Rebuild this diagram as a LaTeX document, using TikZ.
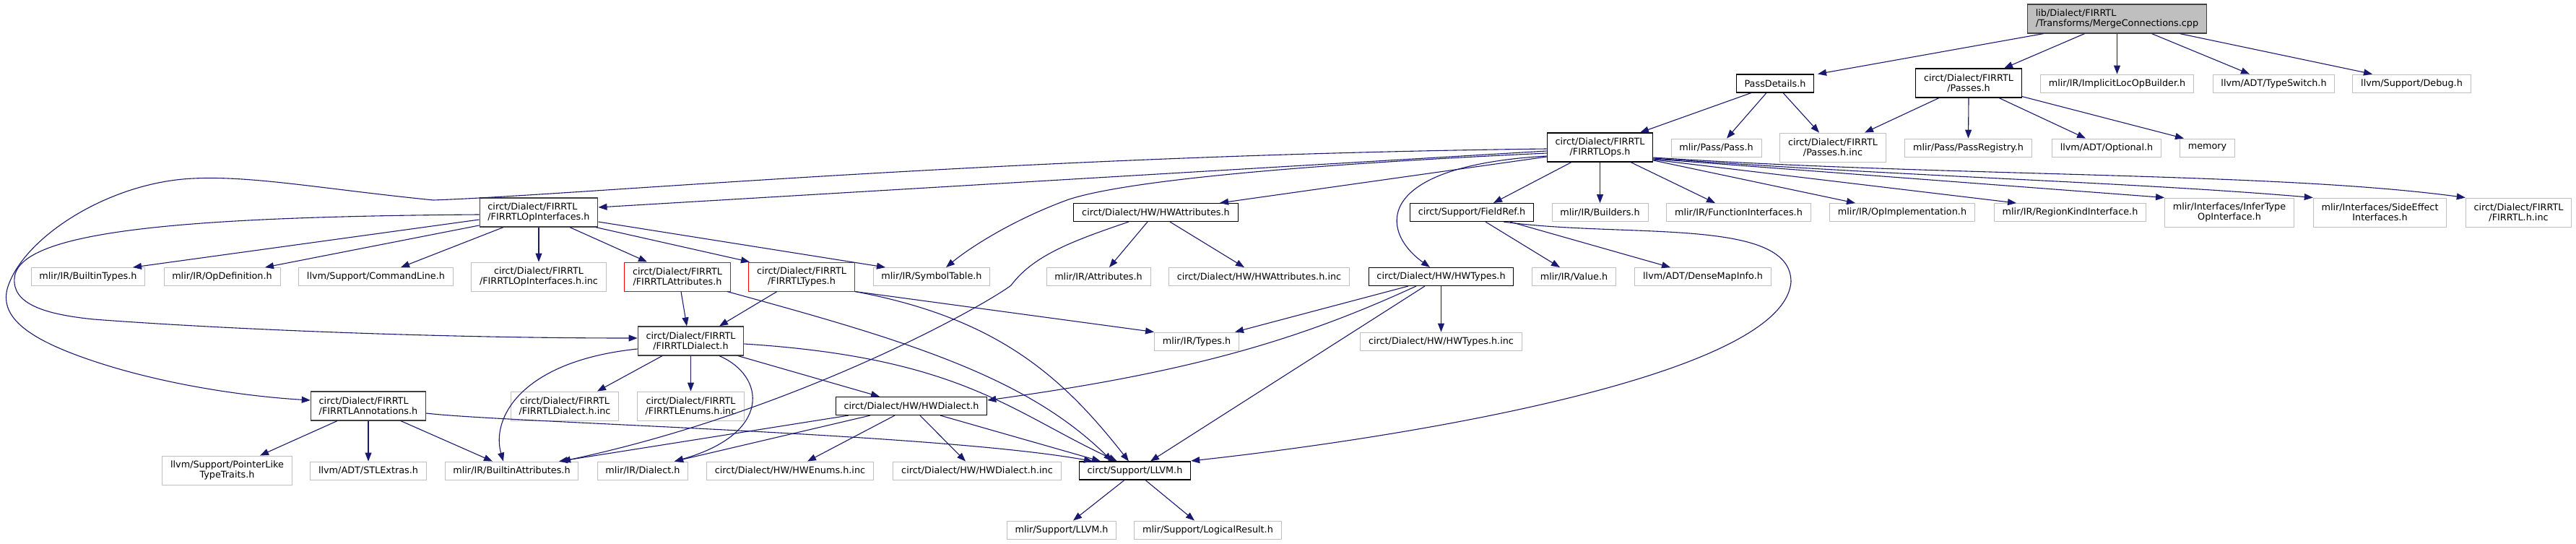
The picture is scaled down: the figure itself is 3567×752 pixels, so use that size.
\documentclass[tikz,border=0pt]{standalone}
\usepackage{fontspec}
\setmainfont{DejaVu Sans}
\usepackage{tikz}
\usetikzlibrary{arrows.meta,positioning,calc}
\usepackage{xcolor}
\definecolor{edgeblue}{HTML}{191970}
\definecolor{incgray}{HTML}{BFBFBF}
\definecolor{darkedge}{HTML}{404040}
\definecolor{rootgray}{HTML}{BFBFBF}
\tikzset{
    filebox/.style={rectangle, fill=white, inner xsep=11.3pt, inner ysep=2pt, minimum height=25pt, align=center, font=\fontsize{12.8pt}{14pt}\selectfont},
    two/.style={minimum height=40pt},
    incfile/.style={filebox, draw=incgray, line width=0.9pt},
    docfile/.style={filebox, draw=black, line width=1.1pt},
    linkfile/.style={filebox, draw=darkedge, line width=1.2pt},
    cutfile/.style={filebox, draw=red, line width=1pt},
    rootfile/.style={filebox, draw=darkedge, fill=rootgray, line width=1.2pt},
    dep/.style={draw=edgeblue, line width=1.1pt, -{Triangle[length=12pt,width=9pt]}},
}

\begin{document}
\begin{tikzpicture}[x=1pt, y=-1pt]
    \fill[white] (0,0) rectangle (3567,752);
    \useasboundingbox (0,0) rectangle (3567,752);

    % Source file
    \node[rootfile, two, align=left] (root) at (2931.5,26) {lib/Dialect/FIRRTL\\/Transforms/MergeConnections.cpp};

    % Direct includes
    \node[docfile] (passdet) at (2458,115.5) {PassDetails.h};
    \node[docfile, two] (passes) at (2726,115) {circt/Dialect/FIRRTL\\/Passes.h};
    \node[incfile] (implicit) at (2931.5,115.5) {mlir/IR/ImplicitLocOpBuilder.h};
    \node[incfile] (typeswitch) at (3148.5,115.5) {llvm/ADT/TypeSwitch.h};
    \node[incfile] (debug) at (3339.5,115.5) {llvm/Support/Debug.h};

    \node[incfile] (pass) at (2376.5,204.5) {mlir/Pass/Pass.h};
    \node[incfile, two] (passesinc) at (2538,204) {circt/Dialect/FIRRTL\\/Passes.h.inc};
    \node[incfile] (passreg) at (2725.5,204.5) {mlir/Pass/PassRegistry.h};
    \node[incfile] (optional) at (2917,204.5) {llvm/ADT/Optional.h};
    \node[incfile] (memory) at (3056.5,204.5) {memory};
    \node[docfile, two] (ops) at (2215.5,204) {circt/Dialect/FIRRTL\\/FIRRTLOps.h};

    % Ops row
    \node[linkfile, two, align=left] (opif) at (746,294) {circt/Dialect/FIRRTL\\/FIRRTLOpInterfaces.h};
    \node[docfile] (hwattr) at (1600.5,294) {circt/Dialect/HW/HWAttributes.h};
    \node[docfile] (fieldref) at (2038,294) {circt/Support/FieldRef.h};
    \node[incfile] (builders) at (2215.5,294) {mlir/IR/Builders.h};
    \node[incfile] (funcif) at (2407.5,294) {mlir/IR/FunctionInterfaces.h};
    \node[incfile] (opimpl) at (2634,294) {mlir/IR/OpImplementation.h};
    \node[incfile] (regionkind) at (2866.5,294) {mlir/IR/RegionKindInterface.h};
    \node[incfile, two] (infertype) at (3087,294) {mlir/Interfaces/InferType\\OpInterface.h};
    \node[incfile, two] (sideeffect) at (3295.5,294) {mlir/Interfaces/SideEffect\\Interfaces.h};
    \node[incfile, two] (firrtlinc) at (3487.5,294) {circt/Dialect/FIRRTL\\/FIRRTL.h.inc};

    % Interfaces row
    \node[incfile] (builtintypes) at (122,383) {mlir/IR/BuiltinTypes.h};
    \node[incfile] (opdef) at (307.5,383) {mlir/IR/OpDefinition.h};
    \node[incfile] (cmdline) at (520.5,383) {llvm/Support/CommandLine.h};
    \node[incfile, two] (opifinc) at (746,383) {circt/Dialect/FIRRTL\\/FIRRTLOpInterfaces.h.inc};
    \node[cutfile, two] (fattr) at (938,383) {circt/Dialect/FIRRTL\\/FIRRTLAttributes.h};
    \node[cutfile, two] (ftypes) at (1110,383) {circt/Dialect/FIRRTL\\/FIRRTLTypes.h};
    \node[incfile] (symtab) at (1290,383) {mlir/IR/SymbolTable.h};
    \node[incfile] (attrs) at (1521,383) {mlir/IR/Attributes.h};
    \node[incfile] (hwattrinc) at (1743.5,383) {circt/Dialect/HW/HWAttributes.h.inc};
    \node[docfile] (hwtypes) at (1995.5,383) {circt/Dialect/HW/HWTypes.h};
    \node[incfile] (value) at (2179.5,383) {mlir/IR/Value.h};
    \node[incfile] (densemap) at (2358,383) {llvm/ADT/DenseMapInfo.h};

    \node[linkfile, two] (fdialect) at (956.5,472) {circt/Dialect/FIRRTL\\/FIRRTLDialect.h};
    \node[incfile] (types) at (1657,472.5) {mlir/IR/Types.h};
    \node[incfile] (hwtypesinc) at (1995.5,472.5) {circt/Dialect/HW/HWTypes.h.inc};

    \node[linkfile, two, align=left] (annot) at (510,562) {circt/Dialect/FIRRTL\\/FIRRTLAnnotations.h};
    \node[incfile, two] (fdialectinc) at (782,562) {circt/Dialect/FIRRTL\\/FIRRTLDialect.h.inc};
    \node[incfile, two] (fenums) at (956.5,562) {circt/Dialect/FIRRTL\\/FIRRTLEnums.h.inc};
    \node[docfile] (hwdialect) at (1262,562) {circt/Dialect/HW/HWDialect.h};

    % Bottom rows
    \node[incfile, two] (ptrlike) at (314.5,651) {llvm/Support/PointerLike\\TypeTraits.h};
    \node[incfile] (stlextras) at (510,651.5) {llvm/ADT/STLExtras.h};
    \node[incfile] (builtinattr) at (708.5,651.5) {mlir/IR/BuiltinAttributes.h};
    \node[incfile] (dialect) at (890,651.5) {mlir/IR/Dialect.h};
    \node[incfile] (hwenums) at (1094,651.5) {circt/Dialect/HW/HWEnums.h.inc};
    \node[incfile] (hwdialectinc) at (1353,651.5) {circt/Dialect/HW/HWDialect.h.inc};
    \node[docfile] (llvm) at (1571.5,651.5) {circt/Support/LLVM.h};
    \node[incfile] (mlirllvm) at (1470,733.5) {mlir/Support/LLVM.h};
    \node[incfile] (logres) at (1672.5,733.5) {mlir/Support/LogicalResult.h};

    % Edges from the source file
    \draw[dep] ([xshift=-102pt]root.south) -- ([xshift=59pt]passdet.north);
    \draw[dep] ([xshift=-45pt]root.south) -- ([xshift=49pt]passes.north);
    \draw[dep] (root.south) -- (implicit.north);
    \draw[dep] ([xshift=48pt]root.south) -- ([xshift=-33.5pt]typeswitch.north);
    \draw[dep] ([xshift=87pt]root.south) -- ([xshift=-54.5pt]debug.north);

    \draw[dep] ([xshift=-33pt]passdet.south) -- ([xshift=55.5pt]ops.north);
    \draw[dep] ([xshift=-12pt]passdet.south) -- ([xshift=14.5pt]pass.north);
    \draw[dep] ([xshift=11pt]passdet.south) -- ([xshift=-19pt]passesinc.north);
    \draw[dep] ([xshift=-41pt]passes.south) -- ([xshift=44pt]passesinc.north);
    \draw[dep] (passes.south) -- (passreg.north);
    \draw[dep] ([xshift=42pt]passes.south) -- ([xshift=-29pt]optional.north);
    \draw[dep] ([yshift=2pt]passes.south east) -- ([xshift=-32.5pt]memory.north);

    % FIRRTLOps.h
    \draw[dep] ([xshift=-39.5pt]ops.south) -- ([xshift=30pt]fieldref.north);
    \draw[dep] (ops.south) -- (builders.north);
    \draw[dep] ([xshift=42.5pt]ops.south) -- ([xshift=-32.5pt]funcif.north);
    \draw[dep] ([yshift=-18pt]ops.east) -- ([xshift=-65pt]opimpl.north);
    \draw[dep] ([yshift=-17pt]ops.east) -- ([xshift=-74.5pt]regionkind.north);
    \draw[dep] ([yshift=-16pt]ops.east) -- (infertype.north west);
    \draw[dep] ([yshift=-15pt]ops.east) .. controls (2650,245) and (2950,252) .. (sideeffect.north west);
    \draw[dep] ([yshift=-14pt]ops.east) .. controls (2700,245) and (3150,238) .. (firrtlinc.north west);
    \draw[dep] ([yshift=-5pt]ops.west) -- ([yshift=7pt]opif.east);
    \draw[dep] ([yshift=-2pt]ops.west) .. controls (1400,215) and (800,270) .. (600,277)
        .. controls (450,262) and (350,243) .. (268,247)
        .. controls (150,252) and (30,330) .. (10,400)
        .. controls (0,440) and (40,470) .. (130,500)
        .. controls (220,530) and (330,548) .. ([yshift=8pt]annot.west);
    \draw[dep] ([yshift=-8pt]ops.west) .. controls (1800,228) and (1560,250) .. (1480,276)
        .. controls (1400,305) and (1340,345) .. ([xshift=20pt]symtab.north);
    \draw[dep] ([yshift=-13pt]ops.west) -- ([xshift=88.5pt]hwattr.north);
    \draw[dep] ([yshift=-12pt]ops.west) .. controls (1900,230) and (1910,320) .. ([xshift=-15.5pt]hwtypes.north);

    % FieldRef.h
    \draw[dep] ([xshift=19pt]fieldref.south) -- ([xshift=-19.5pt]value.north);
    \draw[dep] ([xshift=53pt]fieldref.south) -- ([xshift=-45pt]densemap.north);
    \draw[dep] ([xshift=44pt]fieldref.south) .. controls (2250,330) and (2480,300) .. (2480,390)
        .. controls (2470,520) and (1950,605) .. ([yshift=13.5pt]llvm.east);

    % HWAttributes.h
    \draw[dep] ([xshift=-11.5pt]hwattr.south) -- ([xshift=15pt]attrs.north);
    \draw[dep] ([xshift=19.5pt]hwattr.south) -- ([xshift=-20.5pt]hwattrinc.north);
    \draw[dep] ([xshift=-37.5pt]hwattr.south) .. controls (1480,335) and (1430,355) .. (1400,395)
        .. controls (1360,425) and (1100,570) .. ([xshift=69.5pt]builtinattr.north);

    % HWTypes.h
    \draw[dep] (hwtypes.south) -- (hwtypesinc.north);
    \draw[dep] ([xshift=-45.5pt]hwtypes.south) -- ([xshift=53pt]types.north);
    \draw[dep] ([xshift=-34.5pt]hwtypes.south) .. controls (1800,470) and (1650,515) .. ([yshift=8pt]hwdialect.east);
    \draw[dep] ([xshift=-22.5pt]hwtypes.south) -- ([xshift=21.5pt]llvm.north);

    % FIRRTLOpInterfaces.h
    \draw[dep] ([yshift=-10pt]opif.west) -- ([xshift=62pt]builtintypes.north);
    \draw[dep] ([yshift=-18pt]opif.west) -- ([xshift=59.5pt]opdef.north);
    \draw[dep] ([xshift=-49pt]opif.south) -- ([xshift=34.5pt]cmdline.north);
    \draw[dep] (opif.south) -- (opifinc.north);
    \draw[dep] ([xshift=43pt]opif.south) -- ([xshift=-42pt]fattr.north);
    \draw[dep] ([xshift=79pt]opif.south) -- ([xshift=-72pt]ftypes.north);
    \draw[dep] ([yshift=-13pt]opif.east) -- ([xshift=-64pt]symtab.north);
    \draw[dep] ([yshift=-3pt]opif.west) .. controls (250,300) and (25,320) .. (20,385)
        .. controls (17,420) and (60,435) .. (130,442)
        .. controls (300,455) and (600,468) .. ([yshift=4pt]fdialect.west);

    % FIRRTLAttributes.h and FIRRTLTypes.h
    \draw[dep] ([xshift=5pt]fattr.south) -- ([xshift=-5.5pt]fdialect.north);
    \draw[dep] ([xshift=-5pt]fattr.south east) .. controls (1250,470) and (1420,520) .. ([xshift=-31.5pt]llvm.north);
    \draw[dep] ([xshift=-34pt]ftypes.south) -- ([xshift=39.5pt]fdialect.north);
    \draw[dep] (ftypes.south east) -- (types.north west);
    \draw[dep] (ftypes.south east) .. controls (1380,440) and (1470,520) .. ([xshift=-8.5pt]llvm.north);

    % FIRRTLDialect.h
    \draw[dep] ([xshift=-39.5pt]fdialect.south) -- ([xshift=45pt]fdialectinc.north);
    \draw[dep] (fdialect.south) -- (fenums.north);
    \draw[dep] ([yshift=-11pt]fdialect.west) .. controls (720,500) and (680,580) .. ([xshift=-11.5pt]builtinattr.north);
    \draw[dep] ([xshift=39.5pt]fdialect.south) .. controls (1060,520) and (1070,600) .. ([xshift=44pt]dialect.north);
    \draw[dep] ([xshift=65.5pt]fdialect.south) -- ([xshift=-44pt]hwdialect.north);
    \draw[dep] ([yshift=-4pt]fdialect.east) .. controls (1330,495) and (1400,570) .. ([xshift=-24.5pt]llvm.north);

    % FIRRTLAnnotations.h
    \draw[dep] ([xshift=-43pt]annot.south) -- ([xshift=45.5pt]ptrlike.north);
    \draw[dep] (annot.south) -- (stlextras.north);
    \draw[dep] ([xshift=45pt]annot.south) -- ([xshift=-26.5pt]builtinattr.north);
    \draw[dep] ([yshift=-10pt]annot.east) .. controls (700,585) and (1300,600) .. ([xshift=-58.5pt]llvm.north);

    % HWDialect.h
    \draw[dep] ([xshift=-87pt]hwdialect.south) -- ([xshift=65.5pt]builtinattr.north);
    \draw[dep] ([xshift=-57pt]hwdialect.south) -- ([xshift=44pt]dialect.north);
    \draw[dep] ([xshift=-23pt]hwdialect.south) -- ([xshift=24pt]hwenums.north);
    \draw[dep] ([xshift=12pt]hwdialect.south) -- ([xshift=-16pt]hwdialectinc.north);
    \draw[dep] ([xshift=40pt]hwdialect.south) -- ([xshift=-47.5pt]llvm.north);

    % LLVM.h
    \draw[dep] ([xshift=-14.5pt]llvm.south) -- ([xshift=16pt]mlirllvm.north);
    \draw[dep] ([xshift=14.5pt]llvm.south) -- ([xshift=-18.5pt]logres.north);
\end{tikzpicture}
\end{document}
